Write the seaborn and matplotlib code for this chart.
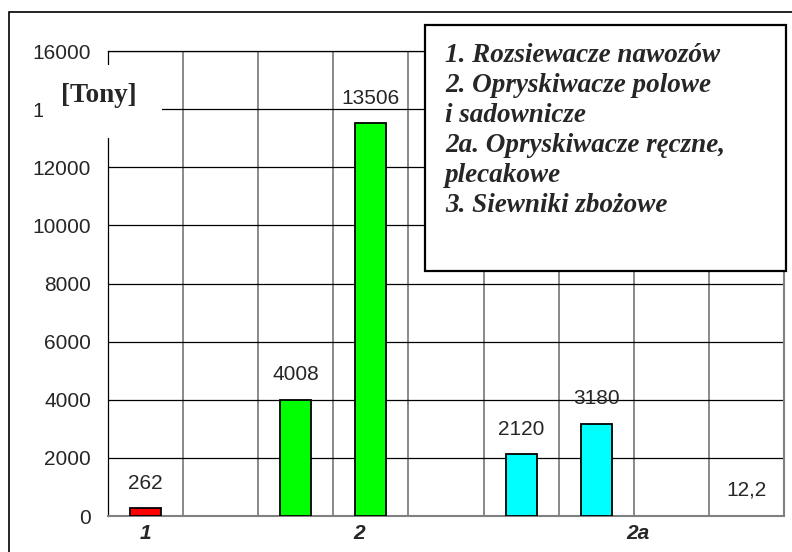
import numpy as np
import pandas as pd
import matplotlib
matplotlib.use('Agg')
import matplotlib.pyplot as plt
from matplotlib.patches import Rectangle
import seaborn as sns

# category slots along the x axis (9 slots, some empty)
slots = ['1-A', '1-B', '2-A', '2-B', '2-C', '2a-A', '2a-B', '2a-C', '3-A']
bar_slots = ['1-A', '2-A', '2-B', '2a-A', '2a-B', '3-A']
values = [262, 4008, 13506, 2120, 3180, 12.2]
value_labels = ['262', '4008', '13506', '2120', '3180', '12,2']
bar_colors = ['#ff0000', '#00ff00', '#00ff00', '#00ffff', '#00ffff', '#ffff00']

group_labels = ['1', '2', '2a']
group_label_pos = [0, 2.85, 6.55]

y_ticks = [0, 2000, 4000, 6000, 8000, 10000, 12000, 14000, 16000]

legend_lines = ['1. Rozsiewacze nawozów',
                '2. Opryskiwacze polowe',
                'i sadownicze',
                '2a. Opryskiwacze ręczne,',
                'plecakowe',
                '3. Siewniki zbożowe']

sns.set_style('white')
plt.rcParams['font.family'] = ['Liberation Sans', 'DejaVu Sans']

W, H = 792, 552


def fx(x):
    return x / W


def fy(y):
    return 1 - y / H


fig = plt.figure(figsize=(W / 100, H / 100), dpi=100)
ax = fig.add_axes([fx(108), fy(516), (784 - 108) / W, (516 - 51) / H])

df = pd.DataFrame({'slot': bar_slots, 'tony': values})
sns.barplot(data=df, x='slot', y='tony', hue='slot', order=slots,
            hue_order=bar_slots, palette=bar_colors, saturation=1,
            width=0.41, edgecolor='black', linewidth=1.3, legend=False,
            ax=ax, zorder=3)

# the 12,2 bar is only a hairline, hide its outline
ax.containers[-1].patches[0].set_linewidth(0)

ax.set_xlim(-0.5, len(slots) - 0.5)
ax.set_ylim(0, 16000)
ax.set_yticks(y_ticks)
ax.set_xticks(group_label_pos)
ax.set_xticklabels(group_labels, fontweight='bold', fontstyle='italic')
ax.set_xticks(np.arange(0.5, len(slots) - 0.5, 1), minor=True)
ax.set_xlabel('')
ax.set_ylabel('')

ax.set_axisbelow(True)
ax.yaxis.grid(True, color='black', lw=0.9)
ax.xaxis.grid(True, which='minor', color='#808080', lw=1.3)
ax.xaxis.grid(False, which='major')

ax.tick_params(axis='y', direction='out', length=3.8, width=0.9,
               color='black', pad=8.5, labelsize=15)
ax.tick_params(axis='x', which='both', length=0, pad=6, labelsize=15)

for side in ['left', 'top']:
    ax.spines[side].set_color('black')
    ax.spines[side].set_linewidth(0.9)
for side in ['right', 'bottom']:
    ax.spines[side].set_color('#808080')
    ax.spines[side].set_linewidth(1.5)

# value labels above the bars
for cont, lab in zip(ax.containers, value_labels):
    p = cont.patches[0]
    ax.annotate(lab, (p.get_x() + p.get_width() / 2, p.get_height()),
                xytext=(0, 14.3), textcoords='offset points',
                ha='center', va='baseline', fontsize=15, zorder=5)

# outer chart frame
fig.add_artist(Rectangle((fx(9), fy(600)), (900 - 9) / W, (600 - 12) / H,
                         transform=fig.transFigure, fill=False,
                         edgecolor='black', lw=1.2, zorder=1))

# unit box covering the 14000 label
fig.add_artist(Rectangle((fx(43), fy(138)), (162 - 43) / W, (138 - 65) / H,
                         transform=fig.transFigure, facecolor='white',
                         edgecolor='none', zorder=5))
fig.text(fx(99), fy(95), '[Tony]', ha='center', va='center',
         family=['Liberation Serif', 'DejaVu Serif'], fontweight='bold',
         fontsize=19.5, zorder=6)

# legend box
fig.add_artist(Rectangle((fx(425), fy(271)), (786 - 425) / W, (271 - 25) / H,
                         transform=fig.transFigure, facecolor='white',
                         edgecolor='black', lw=1.6, zorder=5))
for i, line in enumerate(legend_lines):
    fig.text(fx(445), fy(55.5 + i * 30.1), line, ha='left', va='center',
             family=['Liberation Serif', 'DejaVu Serif'], fontweight='bold',
             fontstyle='italic', fontsize=19.5, zorder=6)

fig.savefig('out.png', dpi=100)
